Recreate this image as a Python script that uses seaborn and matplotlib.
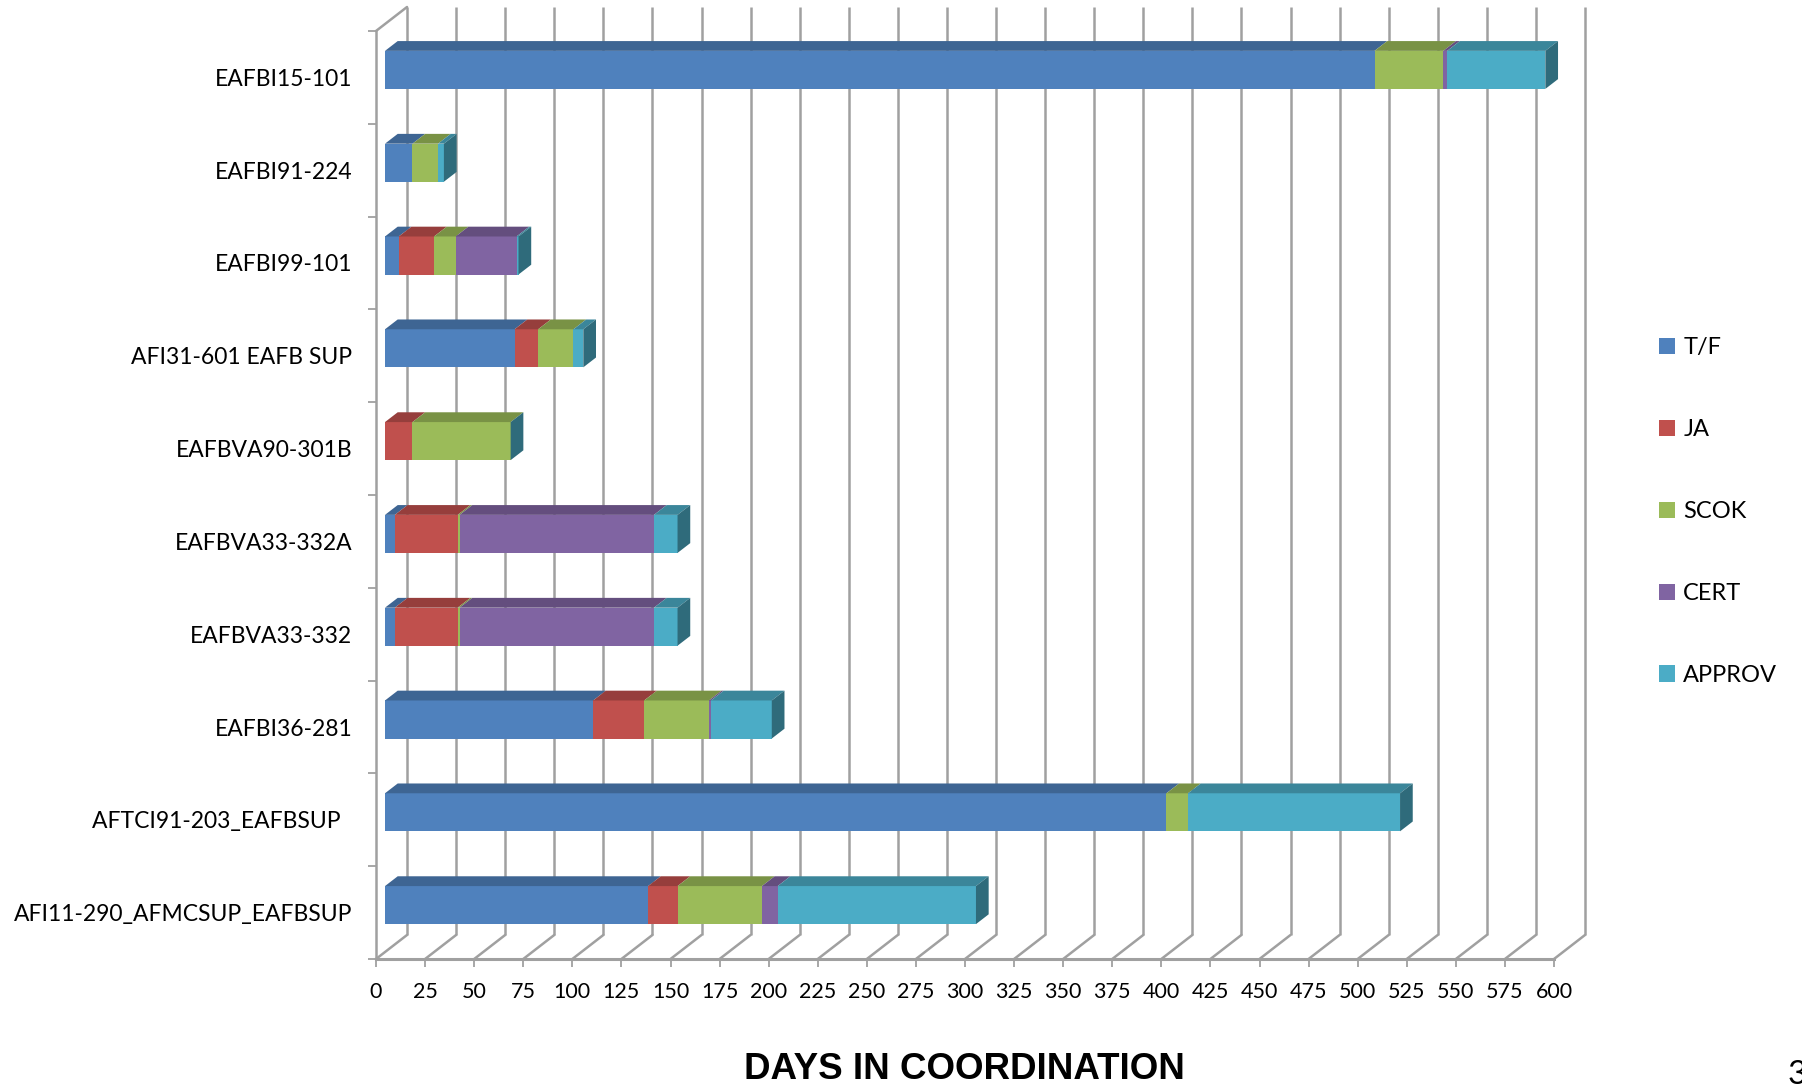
import numpy as np
import pandas as pd
import matplotlib
matplotlib.use("Agg")
import matplotlib.pyplot as plt
import matplotlib.transforms as mtransforms
from matplotlib.patches import Polygon, Patch
import seaborn as sns

# ---- data: days spent in each coordination stage, per document ----
documents = [
    "EAFBI15-101",
    "EAFBI91-224",
    "EAFBI99-101",
    "AFI31-601 EAFB SUP",
    "EAFBVA90-301B",
    "EAFBVA33-332A",
    "EAFBVA33-332",
    "EAFBI36-281",
    "AFTCI91-203_EAFBSUP  ",
    "AFI11-290_AFMCSUP_EAFBSUP",
]
tf_days = [504, 14, 7, 66, 0, 5, 5, 106, 398, 134]
ja_days = [0, 0, 18, 12, 14, 32, 32, 26, 0, 15]
scok_days = [35, 13, 11, 18, 50, 1, 1, 33, 11, 43]
cert_days = [2, 0, 31, 0, 0, 99, 99, 1, 0, 8]
approv_days = [50, 3, 1, 5, 0, 12, 12, 31, 108, 101]

stage_names = ["T/F", "JA", "SCOK", "CERT", "APPROV"]
stage_colors = ["#4F81BD", "#C0504D", "#9BBB59", "#8064A2", "#4BACC6"]
x_ticks = list(range(0, 601, 25))
x_label = "DAYS IN COORDINATION"

sns.set_theme(style="white")
plt.rcParams["font.family"] = ["Lato", "DejaVu Sans"]
plt.rcParams["text.color"] = "black"

DPI = 100
W, H = 1802, 1084
fig = plt.figure(figsize=(W / DPI, H / DPI), dpi=DPI)

# front plane of the box (pixels)
X0, X1 = 376, 1554
YT, YB = 31, 959
ax = fig.add_axes([X0 / W, 1 - YB / H, (X1 - X0) / W, (YB - YT) / H])
ax.patch.set_visible(False)

px_per_day = (X1 - X0) / 600.0
px_per_cat = (YB - YT) / 10.0

GRID = "#A0A0A0"
GRID_LW = 1.8


def darker(c, f):
    r, g, b = matplotlib.colors.to_rgb(c)
    return (r * f, g * f, b * f)


values = np.array([tf_days, ja_days, scok_days, cert_days, approv_days], dtype=float)
cum = np.cumsum(values, axis=0)
bar_w = 0.41

df = pd.DataFrame({"document": documents})
for name, row in zip(stage_names, cum):
    df[name] = row

# stacked front faces: widest cumulative total first, then overlay the shorter ones
for i in range(len(stage_names) - 1, -1, -1):
    sns.barplot(data=df, x=stage_names[i], y="document", orient="h",
                color=stage_colors[i], saturation=1, width=bar_w,
                edgecolor="none", linewidth=0, ax=ax, zorder=3)

ax.set_xlim(0, 600)
ax.set_ylim(9.5, -0.5)

# push the bars back into the box
shift = mtransforms.ScaledTranslation(9 / DPI, 7.5 / DPI, fig.dpi_scale_trans)
bar_trans = ax.transData + shift
for p in ax.patches:
    p.set_transform(bar_trans)

# top and end faces of the 3-D bars
bdx = 12.7 / px_per_day
bdy = -9.8 / px_per_cat
for j in range(len(documents)):
    top = j - bar_w / 2
    bot = j + bar_w / 2
    for i in range(len(stage_names)):
        v = values[i, j]
        if v <= 0:
            continue
        left, right = cum[i, j] - v, cum[i, j]
        poly = Polygon([(left, top), (right, top), (right + bdx, top + bdy),
                        (left + bdx, top + bdy)], closed=True,
                       facecolor=darker(stage_colors[i], 0.78), edgecolor="none",
                       transform=bar_trans, zorder=4, clip_on=False)
        ax.add_patch(poly)
    total = cum[-1, j]
    side = Polygon([(total, top), (total, bot), (total + bdx, bot + bdy),
                    (total + bdx, top + bdy)], closed=True,
                   facecolor=darker(stage_colors[-1], 0.62), edgecolor="none",
                   transform=bar_trans, zorder=4, clip_on=False)
    ax.add_patch(side)

# back wall, floor and side wall of the box
Ddx = 31 / px_per_day
Ddy = -24 / px_per_cat
for t in x_ticks:
    ax.plot([t + Ddx, t + Ddx], [9.5 + Ddy, -0.5 + Ddy], color=GRID, lw=GRID_LW,
            clip_on=False, zorder=1, solid_capstyle="butt")
    ax.plot([t, t + Ddx], [9.5, 9.5 + Ddy], color=GRID, lw=GRID_LW,
            clip_on=False, zorder=1)
ax.plot([0, Ddx], [-0.5, -0.5 + Ddy], color=GRID, lw=GRID_LW, clip_on=False, zorder=1)

for side_name in ["top", "right"]:
    ax.spines[side_name].set_visible(False)
ax.spines["bottom"].set_color(GRID)
ax.spines["bottom"].set_linewidth(2.2)
ax.spines["left"].set_color(GRID)
ax.spines["left"].set_linewidth(GRID_LW)

ax.set_xticks(x_ticks)
ax.set_xticklabels([str(t) for t in x_ticks])
ax.tick_params(axis="x", direction="out", length=5.8, width=1.3, color=GRID,
               pad=11, labelsize=15.5, labelcolor="black", bottom=True)
ax.set_yticks(range(len(documents)))
ax.set_yticklabels(documents)
ax.set_yticks(np.arange(-0.5, len(documents), 1), minor=True)
ax.tick_params(axis="y", which="major", length=0, pad=17, labelsize=16.5,
               labelcolor="black", left=True)
ax.tick_params(axis="y", which="minor", direction="out", length=5.8, width=1.3,
               color=GRID, left=True)
ax.set_xlabel("")
ax.set_ylabel("")
ax.grid(False)

handles = [Patch(facecolor=c, edgecolor="none", label=n)
           for n, c in zip(stage_names, stage_colors)]
leg = fig.legend(handles=handles, loc="center left",
                 bbox_to_anchor=(1659 / W, 1 - 511.5 / H), bbox_transform=fig.transFigure,
                 frameon=False, fontsize=17, handlelength=0.68, handleheight=0.68,
                 handletextpad=0.35, labelspacing=2.58, borderpad=0, borderaxespad=0)
for txt in leg.get_texts():
    txt.set_color("black")

fig.text(964 / W, 1 - 1079 / H, x_label, ha="center", va="baseline", color="black",
         fontsize=26.5, fontweight="bold", family=["Liberation Sans", "DejaVu Sans"])
# slide page number, partly running off the corner
fig.text(1788 / W, 1 - 1060 / H, "3", ha="left", va="top", color="black", fontsize=24)

fig.savefig("out.png", dpi=DPI)
